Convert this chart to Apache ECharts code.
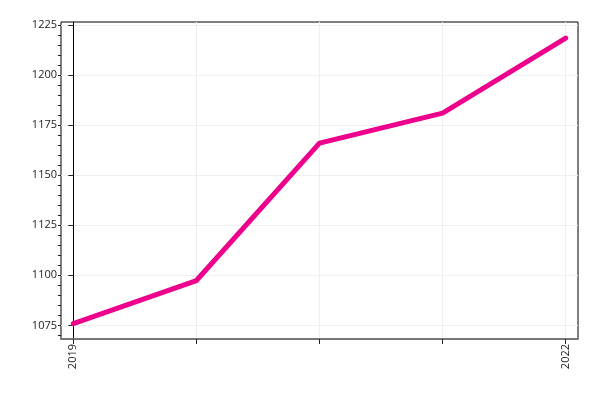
<!DOCTYPE html>
<html>
<head>
<meta charset="utf-8">
<script src="https://cdn.jsdelivr.net/npm/echarts@6/dist/echarts.min.js"></script>
<style>html,body{margin:0;padding:0;background:#fff}#c{width:600px;height:400px}</style>
</head>
<body>
<div id="c"></div>
<script>
const categories = ['2019', '', '', '', '2022'];
const values = [1075.9, 1097.4, 1166.0, 1181.0, 1218.5];
const yTicks = [1075, 1100, 1125, 1150, 1175, 1200, 1225];
const yMinorStep = 5;

const xIdx = categories.map((c, i) => i);
const minorTicks = [];
for (let v = 1070; v <= 1225; v += yMinorStep) minorTicks.push(v);
const data = values.map((v, i) => [xIdx[i], v]);

const font = 'Open Sans';
const chart = echarts.init(document.getElementById('c'));
chart.setOption({
  animation: false,
  grid: { left: 61, right: 22, top: 22, bottom: 61, show: true, borderColor: '#000', borderWidth: 1, backgroundColor: 'transparent' },
  xAxis: {
    type: 'value', min: -0.1, max: 4.1,
    axisLine: { show: true, lineStyle: { color: '#777', width: 2 } },
    axisTick: { show: true, customValues: xIdx, length: 5, lineStyle: { color: '#222' } },
    axisLabel: { customValues: [0, 4], rotate: 90, margin: 5, color: '#222', fontFamily: font, fontSize: 11,
      formatter: v => categories[Math.round(v)] },
    splitLine: { show: true, lineStyle: { color: '#efefef', width: 1 } }
  },
  yAxis: [{
    type: 'value', min: 1068.2, max: 1226.5,
    axisLine: { show: true, lineStyle: { color: '#000', width: 1 } },
    axisTick: { show: true, customValues: yTicks, length: 5, lineStyle: { color: '#222' } },
    axisLabel: { customValues: yTicks, margin: 4, color: '#222', fontFamily: font, fontSize: 11,
      formatter: v => String(v) },
    splitLine: { show: true, lineStyle: { color: '#efefef', width: 1 } }
  }, {
    type: 'value', min: 1068.2, max: 1226.5, position: 'left',
    axisLine: { show: false },
    axisTick: { show: true, customValues: minorTicks, length: 3, lineStyle: { color: '#222' } },
    axisLabel: { show: false },
    splitLine: { show: false }
  }],
  series: [{
    type: 'line', data: data, yAxisIndex: 0, showSymbol: false, symbol: 'none',
    lineStyle: { color: '#ec008c', width: 5, cap: 'round', join: 'round' }
  }]
});
</script>
</body>
</html>
